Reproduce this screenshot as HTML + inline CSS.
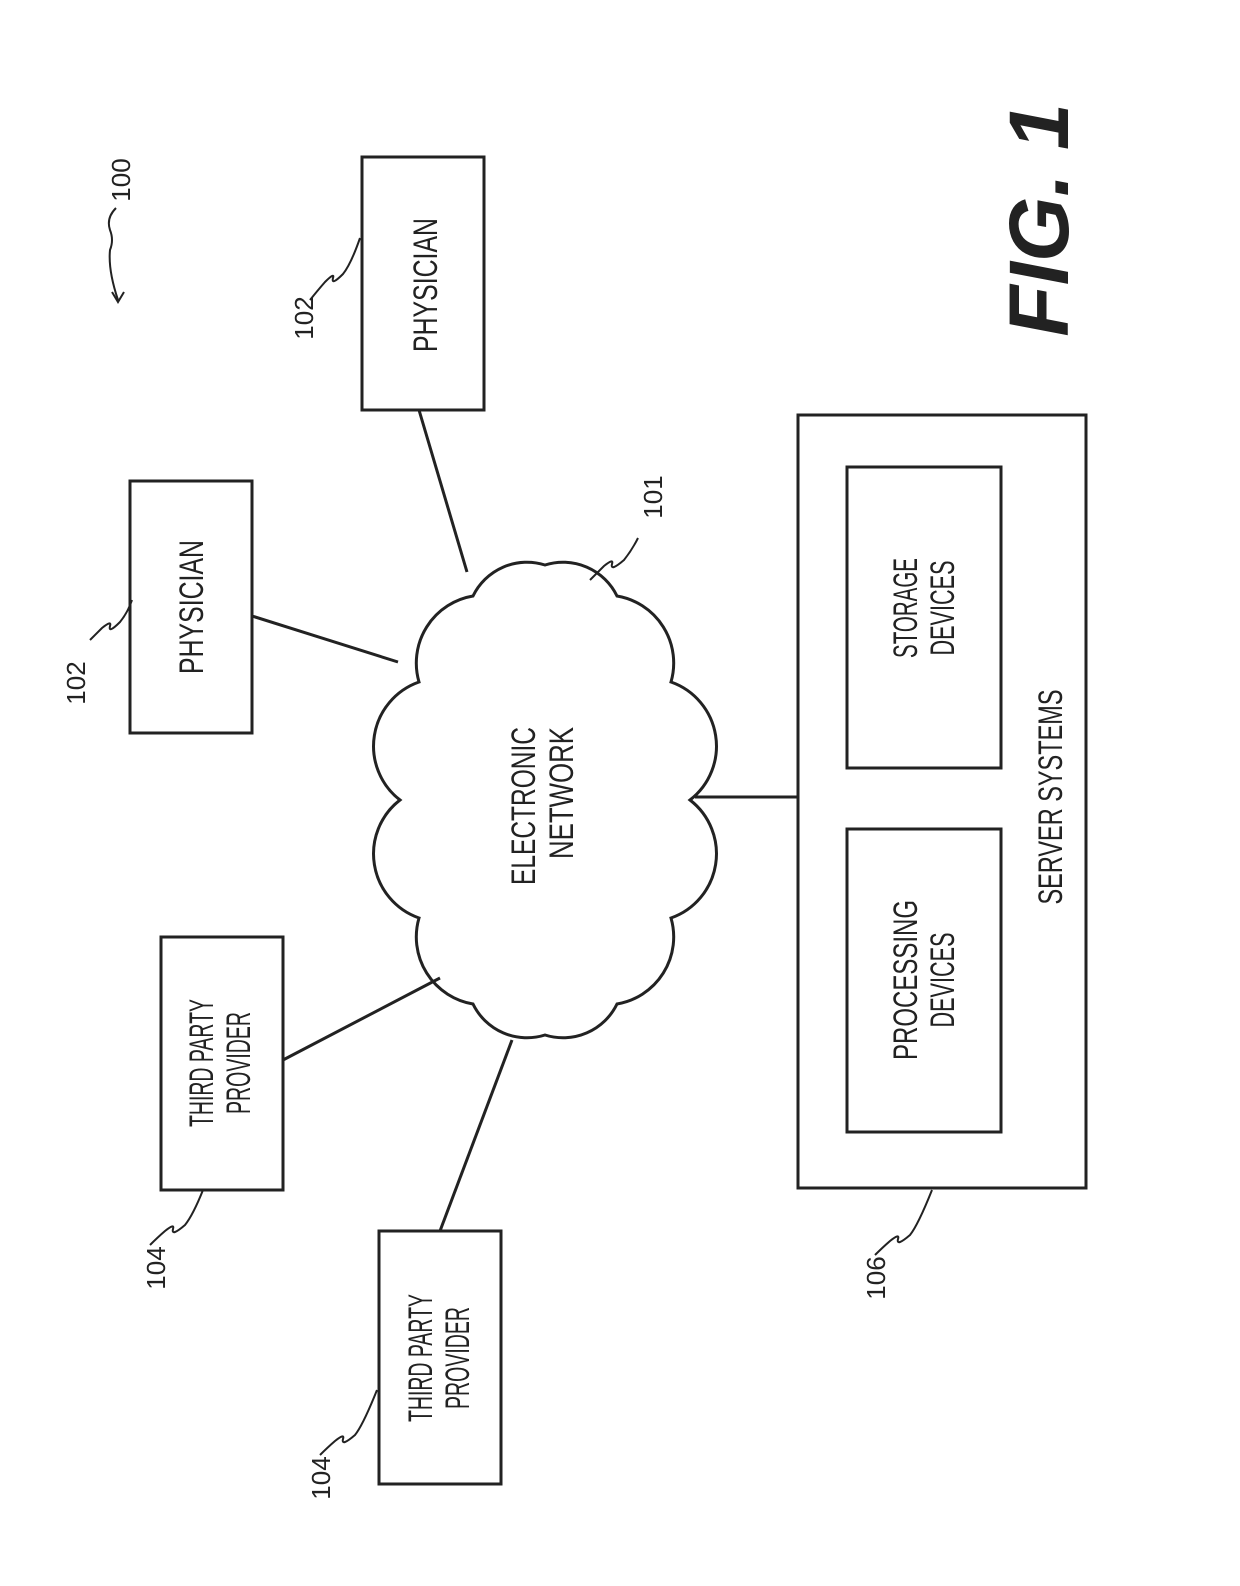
<!DOCTYPE html>
<html><head><meta charset="utf-8"><style>
html,body{margin:0;padding:0;background:#fff;}
svg{display:block;}
text{font-family:"Liberation Sans",sans-serif;fill:#222;}
</style></head><body>
<svg width="1240" height="1586" viewBox="0 0 1240 1586" xmlns="http://www.w3.org/2000/svg">
<g fill="none" stroke="#222" stroke-width="3">
<rect x="362" y="157" width="122" height="253"/>
<rect x="130" y="481" width="122" height="252"/>
<rect x="161" y="937" width="122" height="253"/>
<rect x="379" y="1231" width="122" height="253"/>
<rect x="798" y="415" width="288" height="773"/>
<rect x="847" y="467" width="154" height="301"/>
<rect x="847" y="829" width="154" height="303"/>
<line x1="419" y1="410" x2="467" y2="572"/>
<line x1="252" y1="616" x2="398" y2="662"/>
<line x1="283" y1="1060" x2="440" y2="978"/>
<line x1="440" y1="1231" x2="512" y2="1040"/>
<line x1="695" y1="797" x2="798" y2="797"/>
<path d="M690,800 A68,68 0 0 1 671,918 A68,68 0 0 1 617,1004 A60,60 0 0 1 545,1035 A60,60 0 0 1 473,1004 A68,68 0 0 1 419,918 A68,68 0 0 1 400,800 A68,68 0 0 1 419,682 A68,68 0 0 1 473,596 A60,60 0 0 1 545,565 A60,60 0 0 1 617,596 A68,68 0 0 1 671,682 A68,68 0 0 1 690,800 Z"/>
<!-- leaders -->
<path d="M310,300 q8,-10 15,-18 q10,-10 8,-4 q-2,8 10,-4 q8,-10 17,-36" stroke-width="2"/>
<path d="M90,640 q8,-8 12,-12 q10,-8 8,-2 q-2,8 10,-4 q8,-10 12,-22" stroke-width="2"/>
<path d="M150,1245 q8,-8 15,-14 q10,-8 8,-2 q-2,8 12,-4 q8,-10 18,-35" stroke-width="2"/>
<path d="M320,1455 q8,-8 15,-14 q10,-8 8,-2 q-2,8 12,-4 q8,-10 22,-45" stroke-width="2"/>
<path d="M875,1255 q8,-8 15,-14 q10,-8 8,-2 q-2,8 12,-4 q8,-10 22,-45" stroke-width="2"/>
<path d="M590,580 q10,-10 14,-14 q10,-8 8,-2 q-2,8 12,-4 q8,-10 14,-22" stroke-width="2"/>
<path d="M118,300 q-10,-30 -8,-50 q4,-10 0,-20 q-4,-12 6,-22" stroke-width="2"/>
<path d="M112,292 l6,10 l6,-10" stroke-width="2"/>
</g>
<g font-size="34">
<text transform="translate(437,285) rotate(-90)" text-anchor="middle" textLength="134" lengthAdjust="spacingAndGlyphs">PHYSICIAN</text>
<text transform="translate(203,607) rotate(-90)" text-anchor="middle" textLength="134" lengthAdjust="spacingAndGlyphs">PHYSICIAN</text>
<text transform="translate(213,1063) rotate(-90)" text-anchor="middle" textLength="128" lengthAdjust="spacingAndGlyphs">THIRD PARTY</text>
<text transform="translate(250,1063) rotate(-90)" text-anchor="middle" textLength="102" lengthAdjust="spacingAndGlyphs">PROVIDER</text>
<text transform="translate(432,1358) rotate(-90)" text-anchor="middle" textLength="128" lengthAdjust="spacingAndGlyphs">THIRD PARTY</text>
<text transform="translate(469,1358) rotate(-90)" text-anchor="middle" textLength="102" lengthAdjust="spacingAndGlyphs">PROVIDER</text>
<text transform="translate(535,806) rotate(-90)" text-anchor="middle" textLength="158" lengthAdjust="spacingAndGlyphs">ELECTRONIC</text>
<text transform="translate(573,793) rotate(-90)" text-anchor="middle" textLength="132" lengthAdjust="spacingAndGlyphs">NETWORK</text>
<text transform="translate(917,608) rotate(-90)" text-anchor="middle" textLength="100" lengthAdjust="spacingAndGlyphs">STORAGE</text>
<text transform="translate(954,608) rotate(-90)" text-anchor="middle" textLength="95" lengthAdjust="spacingAndGlyphs">DEVICES</text>
<text transform="translate(917,980) rotate(-90)" text-anchor="middle" textLength="160" lengthAdjust="spacingAndGlyphs">PROCESSING</text>
<text transform="translate(954,980) rotate(-90)" text-anchor="middle" textLength="95" lengthAdjust="spacingAndGlyphs">DEVICES</text>
<text transform="translate(1062,797) rotate(-90)" text-anchor="middle" textLength="215" lengthAdjust="spacingAndGlyphs">SERVER SYSTEMS</text>
</g>
<g font-size="26">
<text transform="translate(313,318) rotate(-90)" text-anchor="middle">102</text>
<text transform="translate(85,683) rotate(-90)" text-anchor="middle">102</text>
<text transform="translate(165,1268) rotate(-90)" text-anchor="middle">104</text>
<text transform="translate(330,1478) rotate(-90)" text-anchor="middle">104</text>
<text transform="translate(885,1278) rotate(-90)" text-anchor="middle">106</text>
<text transform="translate(662,497) rotate(-90)" text-anchor="middle">101</text>
<text transform="translate(130,180) rotate(-90)" text-anchor="middle">100</text>
</g>
<text transform="translate(1068,220) rotate(-90)" text-anchor="middle" font-size="84" font-weight="bold" font-style="italic">FIG. 1</text>
</svg>
</body></html>
